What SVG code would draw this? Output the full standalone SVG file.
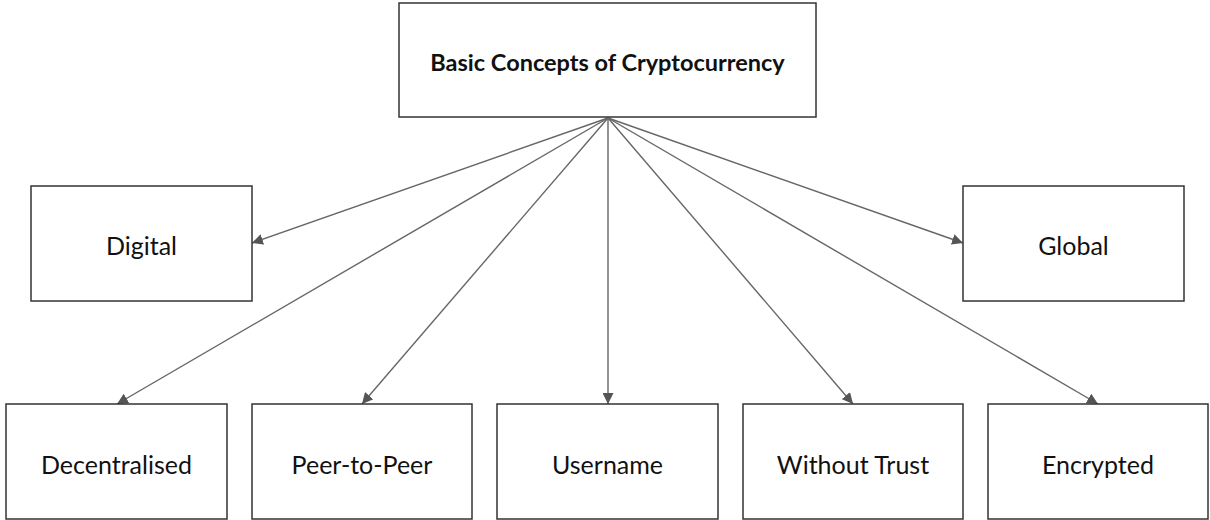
<svg xmlns="http://www.w3.org/2000/svg" width="1210" height="520" viewBox="0 0 1210 520">
<defs>
<style>
.box{fill:#fff;stroke:#333;stroke-width:1.5}
.t{font-family:Lato,"Open Sans",sans-serif;font-size:25px;fill:#111;text-anchor:middle;dominant-baseline:central}
.tb{font-weight:bold;font-size:23.5px}
.c{stroke:#666;stroke-width:1.4;fill:none;marker-end:url(#ah)}
</style>
<marker id="ah" viewBox="0 0 10 10" refX="10" refY="5" markerWidth="11" markerHeight="11" markerUnits="userSpaceOnUse" orient="auto">
<path d="M0,0 L10,5 L0,10 z" fill="#555"/>
</marker>
</defs>
<rect width="1210" height="520" fill="#fff"/>
<g id="connectors">
<line class="c" x1="608" y1="118" x2="252" y2="243"/>
<line class="c" x1="608" y1="118" x2="963" y2="243"/>
<line class="c" x1="608" y1="118" x2="117" y2="404"/>
<line class="c" x1="608" y1="118" x2="362" y2="404"/>
<line class="c" x1="608" y1="118" x2="608" y2="404"/>
<line class="c" x1="608" y1="118" x2="853" y2="404"/>
<line class="c" x1="608" y1="118" x2="1098" y2="404"/>
</g>
<g id="root"><rect class="box" x="399" y="3" width="417" height="114"/><text class="t tb" x="607.5" y="62">Basic Concepts of Cryptocurrency</text></g>
<g id="digital"><rect class="box" x="31" y="186" width="221" height="115"/><text class="t" x="141.5" y="245">Digital</text></g>
<g id="global"><rect class="box" x="963" y="186" width="221" height="115"/><text class="t" x="1073.5" y="245">Global</text></g>
<g id="decentralised"><rect class="box" x="6" y="404" width="221" height="115"/><text class="t" x="116.5" y="464">Decentralised</text></g>
<g id="peer"><rect class="box" x="252" y="404" width="220" height="115"/><text class="t" x="362" y="464">Peer-to-Peer</text></g>
<g id="username"><rect class="box" x="497" y="404" width="221" height="115"/><text class="t" x="607.5" y="464">Username</text></g>
<g id="without-trust"><rect class="box" x="743" y="404" width="220" height="115"/><text class="t" x="853" y="464">Without Trust</text></g>
<g id="encrypted"><rect class="box" x="988" y="404" width="220" height="115"/><text class="t" x="1098" y="464">Encrypted</text></g>
</svg>
